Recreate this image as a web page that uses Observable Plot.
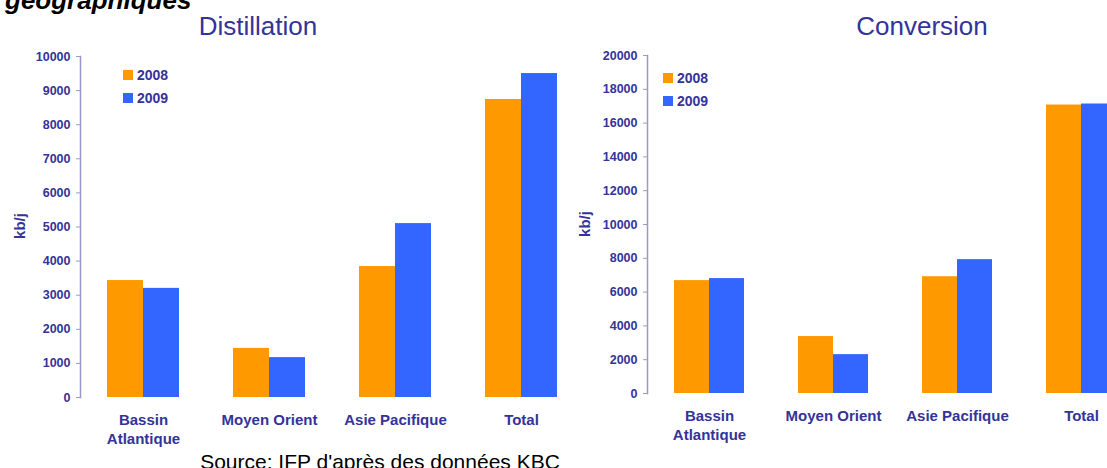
<!DOCTYPE html>
<html>
<head>
<meta charset="utf-8">
<script src="https://cdn.jsdelivr.net/npm/d3@7"></script>
<script src="https://cdn.jsdelivr.net/npm/@observablehq/plot@0.6"></script>
<style>
  html, body { margin: 0; padding: 0; background: #fff; }
  #page {
    position: relative; width: 1107px; height: 468px; overflow: hidden;
    background: #fff; font-family: "Liberation Sans", Arial, sans-serif;
  }
  #page > * { position: absolute; }
  .heading { left: 5px; top: -15px; font-size: 26px; line-height: 30px; font-weight: bold; font-style: italic; color: #000; white-space: nowrap; }
  .title { width: 240px; text-align: center; font-size: 26px; line-height: 30px; color: #333399; top: 11px; }
  .unit { font-size: 15px; font-weight: bold; color: #333399; line-height: 18px; transform: translate(-50%, -50%) rotate(-90deg); white-space: nowrap; }
  .caption { left: 180px; width: 400px; text-align: center; top: 450px; font-size: 21px; line-height: 24px; color: #000; white-space: nowrap; }
  .legend { font-size: 14px; font-weight: bold; color: #333399; line-height: 24px; }
  .legend div { display: flex; align-items: center; height: 23px; }
  .legend span.sw { width: 10px; height: 10px; margin-right: 4px; display: inline-block; }
</style>
</head>
<body>
<div id="page">
  <div class="heading">géographiques</div>
  <div class="title" style="left:138px">Distillation</div>
  <div class="title" style="left:802px">Conversion</div>
  <div class="unit" style="left:20px; top:226px">kb/j</div>
  <div class="unit" style="left:585px; top:224px">kb/j</div>
  <div class="caption">Source: IFP d'après des données KBC</div>
</div>
<script>
// Refining capacity by region, kb/j
const regions = ["Bassin Atlantique", "Moyen Orient", "Asie Pacifique", "Total"];
const years = ["2008", "2009"];
const yearColors = ["#FF9900", "#3366FF"];

const distillation2008 = [3430, 1440, 3840, 8740];
const distillation2009 = [3200, 1170, 5100, 9500];
const distillationTicks = [0, 1000, 2000, 3000, 4000, 5000, 6000, 7000, 8000, 9000, 10000];

const conversion2008 = [6680, 3370, 6910, 17070];
const conversion2009 = [6800, 2300, 7920, 17130];
const conversionTicks = [0, 2000, 4000, 6000, 8000, 10000, 12000, 14000, 16000, 18000, 20000];

const ink = "#333399";
const axisLine = "#9999CC";
const font = "'Liberation Sans', Arial, sans-serif";

function groupedBars({values2008, values2009, ticks, width, marginTop, marginBottom}) {
  const rows = regions.flatMap((region, i) => [
    {region, year: years[0], value: values2008[i]},
    {region, year: years[1], value: values2009[i]}
  ]);
  return Plot.plot({
    width,
    height: 450,
    marginLeft: 80,
    marginRight: 0,
    marginTop,
    marginBottom,
    style: {fontFamily: font, background: "transparent", overflow: "visible", color: ink},
    fx: {domain: regions, paddingInner: 0, paddingOuter: 0, label: null},
    x: {domain: years, paddingInner: 0, paddingOuter: 0.726, axis: null},
    y: {domain: [0, ticks[ticks.length - 1]], label: null},
    color: {domain: years, range: yearColors},
    marks: [
      Plot.frame({anchor: "left", facetAnchor: "left", stroke: axisLine, strokeWidth: 1.5}),
      Plot.axisY({ticks, tickSize: 4, tickPadding: 6, stroke: axisLine, fill: ink,
                  fontSize: 12.5, fontWeight: "bold", label: null, tickFormat: d => String(d)}),
      Plot.axisFx({anchor: "bottom", tickSize: 0, tickPadding: 14, fontSize: 15, fontWeight: "bold",
                   lineHeight: 1.27, fill: ink, label: null,
                   tickFormat: d => d.replace("Bassin ", "Bassin\n")}),
      Plot.barY(rows, {fx: "region", x: "year", y: "value", fill: "year"})
    ]
  });
}

function legend(left, top) {
  const box = document.createElement("div");
  box.className = "legend";
  box.style.left = left + "px";
  box.style.top = top + "px";
  years.forEach((y, i) => {
    const row = document.createElement("div");
    const sw = document.createElement("span");
    sw.className = "sw";
    sw.style.background = yearColors[i];
    row.appendChild(sw);
    row.appendChild(document.createTextNode(y));
    box.appendChild(row);
  });
  return box;
}

const page = document.getElementById("page");

const left = groupedBars({values2008: distillation2008, values2009: distillation2009,
  ticks: distillationTicks, width: 584, marginTop: 56, marginBottom: 53});
left.style.left = "0px";
left.style.top = "0px";
page.appendChild(left);

const right = groupedBars({values2008: conversion2008, values2009: conversion2009,
  ticks: conversionTicks, width: 577, marginTop: 55, marginBottom: 57});
right.style.left = "566px";
right.style.top = "0px";
page.appendChild(right);

page.appendChild(legend(123, 63));
page.appendChild(legend(663, 66));
</script>
</body>
</html>
